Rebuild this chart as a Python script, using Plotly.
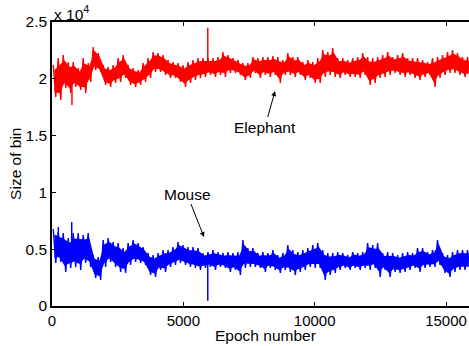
import numpy as np
import plotly.graph_objects as go

# ---- data (envelopes of the noisy traces, per ~190-epoch bin) ----
epoch_step = 190

red_top = [21215, 21831, 22096, 21479, 21479, 20951, 21831, 21391, 22800, 22272,
           21215, 21039, 21215, 21831, 22096, 21215, 20951, 20775, 21391, 21831,
           22360, 22272, 22096, 21655, 21479, 21391, 21215, 21479, 21655, 21831,
           21831, 21831, 21831, 21919, 22360, 22096, 21831, 21655, 21391, 21391,
           21919, 21831, 21919, 21919, 22008, 21919, 21655, 22272, 21919, 21919,
           21479, 21655, 21479, 21831, 22536, 22360, 22712, 21831, 21831, 21655,
           21831, 21919, 22272, 21919, 21831, 21919, 22096, 22360, 21919, 22096,
           22272, 21831, 21831, 21831, 21655, 21479, 21831, 21919, 22096, 22360,
           22536, 22272, 21919, 21919]
red_bottom = [18398, 18134, 19191, 18750, 19279, 19015, 18750, 19719, 20775, 20599,
              19455, 19279, 19631, 19719, 20071, 19455, 19279, 19455, 19719, 20071,
              20599, 20599, 20335, 20071, 20071, 19719, 19279, 19631, 19895, 20071,
              20159, 20335, 20159, 20335, 20159, 20511, 20511, 20335, 19895, 20071,
              20511, 20071, 20335, 20159, 20335, 19631, 20335, 20335, 20159, 20335,
              19895, 20071, 19631, 19631, 20159, 20335, 20159, 20071, 20335, 20159,
              20159, 20071, 20335, 19455, 19631, 20071, 20159, 20335, 20511, 20335,
              20159, 20335, 20071, 19895, 20159, 20335, 19279, 20071, 20335, 20511,
              20511, 20335, 20159, 20159]
blue_top = [6778, 6514, 6426, 5986, 6426, 6426, 6250, 6426, 4490, 4313,
            5810, 5986, 5634, 5546, 5106, 5546, 5810, 5546, 5194, 4666,
            4490, 4666, 4930, 4930, 5194, 5634, 5370, 5194, 5194, 5106,
            4666, 4754, 4930, 4754, 4666, 4754, 4666, 4754, 5810, 5106,
            5106, 4666, 4754, 4666, 4930, 4490, 4666, 5370, 4930, 4754,
            4930, 5106, 5370, 5546, 4930, 4666, 4666, 4754, 4666, 4490,
            4754, 4666, 4754, 5546, 5370, 5546, 4666, 4754, 4666, 4490,
            4666, 4754, 4666, 5106, 5106, 4754, 4930, 5810, 4666, 4490,
            4754, 4930, 4930, 4930]
blue_bottom = [3785, 3873, 2993, 3345, 3433, 3169, 3785, 3433, 2465, 2289,
               3433, 3873, 3433, 2993, 2905, 3609, 3873, 3785, 3609, 2729,
               2553, 3169, 2993, 3433, 3609, 3785, 3609, 3433, 3345, 3169,
               3345, 3433, 3169, 3433, 3345, 2993, 3169, 2729, 3345, 3433,
               3433, 3345, 2993, 3345, 3169, 2905, 3169, 2993, 2729, 2993,
               3169, 3433, 3345, 3345, 2289, 2729, 2905, 3169, 3345, 3169,
               3345, 3169, 3345, 3169, 3345, 2553, 3169, 2553, 2993, 2905,
               2993, 3169, 3345, 2993, 3345, 3433, 3433, 3609, 2905, 2553,
               2993, 3169, 3169, 3169]

red_spike_epochs = [760, 5930]
red_spike_values = [17700, 24500]
blue_spike_epochs = [240, 750, 5930]
blue_spike_values = [6954, 7395, 470]

x_tickvals = [0, 5000, 10000, 15000]
x_ticktext = ["0", "5000", "10000", "15000"]
y_tickvals = [0, 5000, 10000, 15000, 20000, 25000]
y_ticktext = ["0", "0.5", "1", "1.5", "2", "2.5"]

annot_labels = ["Elephant", "Mouse"]
annot_x = [8490, 5787]
annot_y = [18926, 6074]

RED = "#FF0000"
BLUE = "#0000FF"
FONT = "Liberation Sans, Arial, Helvetica, sans-serif"
FS = 15.5

epochs = np.arange(len(red_top)) * epoch_step + epoch_step / 2

fig = go.Figure()


def add_band(top, bottom, color, spike_e, spike_v):
    top = np.array(top, dtype=float)
    bottom = np.array(bottom, dtype=float)
    mid = (top + bottom) / 2
    half = (top - bottom) / 2
    # solid core of the band
    fig.add_trace(go.Scatter(x=epochs, y=mid - 0.68 * half, mode="lines",
                             line=dict(color=color, width=0), hoverinfo="skip",
                             showlegend=False))
    fig.add_trace(go.Scatter(x=epochs, y=mid + 0.68 * half, mode="lines",
                             fill="tonexty", fillcolor=color,
                             line=dict(color=color, width=0),
                             hoverinfo="skip", showlegend=False))
    # jagged trace swinging between the read extremes
    zx = np.empty(2 * len(epochs))
    zy = np.empty(2 * len(epochs))
    zx[0::2] = epochs - epoch_step / 4
    zx[1::2] = epochs + epoch_step / 4
    zy[0::2] = top
    zy[1::2] = bottom
    fig.add_trace(go.Scatter(x=zx, y=zy, mode="lines",
                             line=dict(color=color, width=1.4),
                             hoverinfo="skip", showlegend=False))
    for e, v in zip(spike_e, spike_v):
        base = float(np.interp(e, epochs, mid))
        fig.add_trace(go.Scatter(x=[e, e], y=[base, v], mode="lines",
                                 line=dict(color=color, width=1.5),
                                 hoverinfo="skip", showlegend=False))


add_band(red_top, red_bottom, RED, red_spike_epochs, red_spike_values)
add_band(blue_top, blue_bottom, BLUE, blue_spike_epochs, blue_spike_values)

offsets = [(-10, 36), (-17, -43)]
for lab, ax_, ay_, (dx, dy) in zip(annot_labels, annot_x, annot_y, offsets):
    fig.add_annotation(x=ax_, y=ay_, xref="x", yref="y", text=lab,
                       showarrow=True, arrowhead=2, arrowsize=1, arrowwidth=1,
                       arrowcolor="black", ax=dx, ay=dy,
                       font=dict(family=FONT, size=FS, color="black"))

fig.add_annotation(x=0, y=1.03, xref="paper", yref="paper", xanchor="left",
                   yanchor="middle", text="x 10<sup>4</sup>", showarrow=False,
                   font=dict(family=FONT, size=FS, color="black"))
fig.add_annotation(x=-0.089, y=0.5, xref="paper", yref="paper", xanchor="center",
                   yanchor="middle", text="Size of bin", textangle=-90,
                   showarrow=False, font=dict(family=FONT, size=FS, color="black"))
fig.add_annotation(x=(265 - 52) / 417, y=-0.104, xref="paper", yref="paper",
                   xanchor="center", yanchor="middle", text="Epoch number",
                   showarrow=False, font=dict(family=FONT, size=FS, color="black"))

fig.update_layout(
    width=469, height=346,
    margin=dict(l=52, r=0, t=22, b=40),
    paper_bgcolor="white", plot_bgcolor="white",
    font=dict(family=FONT, size=FS, color="black"),
    xaxis=dict(range=[0, 15875], tickvals=x_tickvals, ticktext=x_ticktext,
               ticks="inside", ticklen=4, tickcolor="black", showline=True,
               linecolor="black", linewidth=1.5, mirror="ticks", showgrid=False,
               zeroline=False, tickfont=dict(size=15)),
    yaxis=dict(range=[0, 25000], tickvals=y_tickvals, ticktext=y_ticktext,
               ticks="inside", ticklen=4, tickcolor="black", showline=True,
               linecolor="black", linewidth=1.5, mirror=False, showgrid=False,
               zeroline=False),
)

fig.write_html("out.html")
